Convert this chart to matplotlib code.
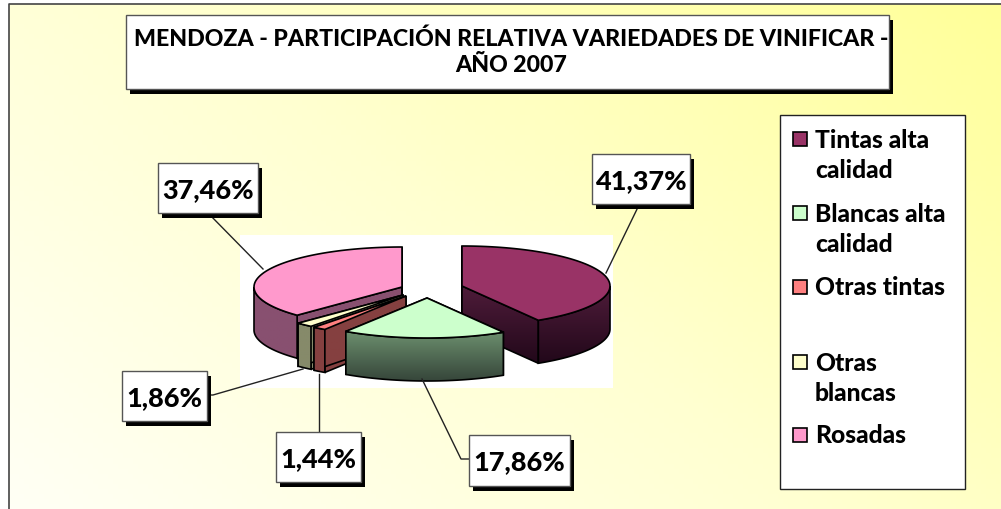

import numpy as np
import matplotlib
matplotlib.use('Agg')
import matplotlib.pyplot as plt
from matplotlib.colors import LinearSegmentedColormap
from matplotlib.patches import Polygon, Rectangle

plt.rcParams['font.family'] = ['Lato', 'DejaVu Sans']

title = "MENDOZA - PARTICIPACIÓN RELATIVA VARIEDADES DE VINIFICAR -\nAÑO 2007"
categories = ["Tintas alta\ncalidad", "Blancas alta\ncalidad", "Otras tintas", "Otras\nblancas", "Rosadas"]
values = [41.37, 17.86, 1.44, 1.86, 37.46]
pct_labels = ["41,37%", "17,86%", "1,44%", "1,86%", "37,46%"]
top_colors = ["#993366", "#CCFFCC", "#FF8080", "#FFFFCC", "#FF99CC"]
side_colors = [("#4F1C3A", "#22081A"), ("#6C8F6E", "#36463A"), ("#854040", "#854040"),
               ("#868A6A", "#868A6A"), ("#885070", "#885070")]
# apex of each exploded slice, in pixels
apex = [(462, 287), (427, 299), (406, 297), (403, 296), (402, 288)]
RX, RY, DEPTH = 148, 40, 43

fig = plt.figure(figsize=(10.01, 5.10), dpi=100)
ax = fig.add_axes([0, 0, 1, 1])
ax.axis('off')

# yellow background, pale at lower left
bg_map = LinearSegmentedColormap.from_list("bg", ["#FFFFF5", "#FFFFD0", "#FFFF99"])
yy, xx = np.mgrid[0:1:100j, 0:1:200j]
ax.imshow(xx * 0.6 + (1 - yy) * 0.4, cmap=bg_map, extent=(9, 1001, 510, 5), aspect='auto', zorder=0)
ax.plot([9, 9, 1001], [510, 5, 5], color="#444444", lw=1.2, zorder=1)

# white plot area behind the pie
ax.add_patch(Rectangle((240, 236), 373, 153, fc="white", ec="none", zorder=1))


def rim(cx, cy, a0, a1):
    t = np.radians(np.linspace(a0, a1, 80))
    return cx + RX * np.sin(t), cy - RY * np.cos(t)


def shaded(points, colors, z):
    cmap = LinearSegmentedColormap.from_list("s", list(colors))
    poly = Polygon(points, closed=True, fc="none", ec="black", lw=1.2, zorder=z + 0.1)
    ax.add_patch(poly)
    ys = points[:, 1]
    xs = points[:, 0]
    im = ax.imshow(np.linspace(0, 1, 64).reshape(-1, 1), cmap=cmap, aspect='auto',
                   extent=(xs.min(), xs.max(), ys.max(), ys.min()), zorder=z)
    im.set_clip_path(poly)


def radial_face(cx, cy, angle, colors, z):
    x, y = rim(cx, cy, angle, angle)
    pts = np.array([(cx, cy), (x[0], y[0]), (x[0], y[0] + DEPTH), (cx, cy + DEPTH)])
    shaded(pts, colors, z)


ends = np.cumsum(values) / np.sum(values) * 360
starts = np.concatenate([[0], ends[:-1]])
# back to front so that nearer slices hide the others
order = [4, 3, 2, 0, 1]
z = 3
for i in order:
    cx, cy = apex[i]
    a0, a1 = starts[i], ends[i]
    radial_face(cx, cy, a0, side_colors[i], z)
    radial_face(cx, cy, a1, side_colors[i], z + 1)
    # outer wall only where the rim faces the viewer
    lo, hi = max(a0, 90), min(a1, 270)
    if hi > lo:
        x, y = rim(cx, cy, lo, hi)
        pts = np.column_stack([np.r_[x, x[::-1]], np.r_[y, y[::-1] + DEPTH]])
        shaded(pts, side_colors[i], z + 2)
    x, y = rim(cx, cy, a0, a1)
    ax.add_patch(Polygon(np.column_stack([np.r_[cx, x], np.r_[cy, y]]), closed=True,
                         fc=top_colors[i], ec="black", lw=1.2, zorder=z + 3))
    z += 4


def box_with_shadow(x0, y0, x1, y1, dx, dy, z):
    ax.add_patch(Rectangle((x0 + dx, y0 + dy), x1 - x0, y1 - y0, fc="black", ec="none", zorder=z))
    ax.add_patch(Rectangle((x0, y0), x1 - x0, y1 - y0, fc="white", ec="#555555", lw=1, zorder=z + 1))


# title
box_with_shadow(126, 16, 889, 90, 4, 5, 40)
ax.text(511.5, 52.5, title, ha='center', va='center', fontsize=16.7, fontweight=900,
        linespacing=1.3, zorder=42)

# leader lines and data labels
leaders = [[(640, 204), (606, 274)], [(422, 380), (461, 460), (469, 460)], [(319, 375), (319, 433)],
           [(303, 370), (213, 396), (207, 396)], [(208, 214), (263, 270)]]
label_boxes = [(592, 155, 690, 205), (469, 436, 570, 487), (276, 433, 361, 483),
               (122, 372, 207, 422), (158, 164, 258, 214)]
for i in range(len(values)):
    pts = np.array(leaders[i])
    ax.plot(pts[:, 0], pts[:, 1], color="#222222", lw=1, zorder=35)
    x0, y0, x1, y1 = label_boxes[i]
    box_with_shadow(x0, y0, x1, y1, 4, 5, 40)
    ax.text((x0 + x1) / 2, (y0 + y1) / 2 - 1, pct_labels[i], ha='center', va='center_baseline',
            fontsize=19.5, fontweight=900, zorder=42)

# legend
ax.add_patch(Rectangle((780, 116), 185, 374, fc="white", ec="#222222", lw=1, zorder=40))
legend_y = [140, 214, 288, 363, 436]
legend_text_y = [155.5, 229.5, 288, 378.5, 436]
for i, name in enumerate(categories):
    ax.add_patch(Rectangle((793, legend_y[i] - 7), 14, 14, fc=top_colors[i], ec="black", lw=1.2, zorder=41))
    ax.text(815, legend_text_y[i], name, ha='left', va='center', fontsize=17.7, fontweight=900,
            linespacing=1.36, zorder=42)

ax.set_xlim(0, 1001)
ax.set_ylim(510, 0)
fig.savefig("out.png", dpi=100)
